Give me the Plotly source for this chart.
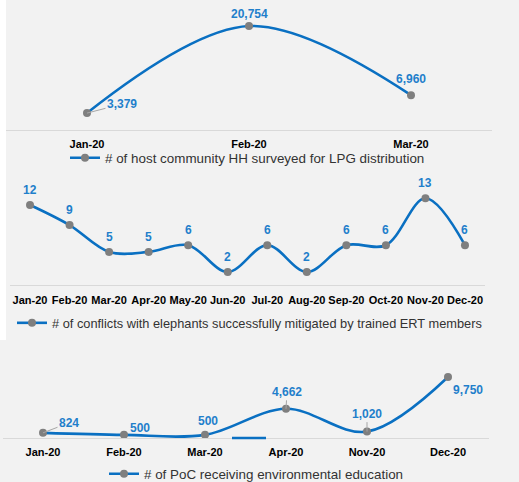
import plotly.graph_objects as go

# ---- data ----
lpg_months = ["Jan-20", "Feb-20", "Mar-20"]
lpg_values = [3379, 20754, 6960]
lpg_name = "# of host community HH surveyed for LPG distribution"

ert_months = ["Jan-20", "Feb-20", "Mar-20", "Apr-20", "May-20", "Jun-20",
              "Jul-20", "Aug-20", "Sep-20", "Oct-20", "Nov-20", "Dec-20"]
ert_values = [12, 9, 5, 5, 6, 2, 6, 2, 6, 6, 13, 6]
ert_name = "# of conflicts with elephants successfully mitigated by trained ERT members"

poc_months = ["Jan-20", "Feb-20", "Mar-20", "Apr-20", "Nov-20", "Dec-20"]
poc_values = [824, 500, 500, 4662, 1020, 9750]
poc_name = "# of PoC receiving environmental education"

# ---- style ----
W, H = 519, 482
LINE = "#0a70c2"
LABEL = "#1f7fcb"
MARK = "#7f7f7f"
BG = "#f2f2f2"
FONT = "Liberation Sans"

def py(p):  # pixel from top -> paper fraction
    return 1 - p / H

fig = go.Figure()

panels = [
    (lpg_months, lpg_values, lpg_name, "x", "y", "legend"),
    (ert_months, ert_values, ert_name, "x2", "y2", "legend2"),
    (poc_months, poc_values, poc_name, "x3", "y3", "legend3"),
]
for months, vals, name, xa, ya, lg in panels:
    fig.add_trace(go.Scatter(
        x=months, y=vals, name=name, mode="lines+markers",
        line=dict(color=LINE, width=2.6, shape="spline", smoothing=1),
        marker=dict(color=MARK, size=8),
        xaxis=xa, yaxis=ya, legend=lg, showlegend=True, cliponaxis=False,
    ))

# label offsets (pixels) per point: (ax, ay, leader)
lpg_off = [(35, -9, True), (0, -12, False), (0, -16, False)]
ert_off = [(0, -15, False)] * len(ert_values)
poc_off = [(26, -10, True), (16, -7, False), (3, -14, False),
           (1, -17, True), (0, -18, True), (20, 13, False)]

annotations = []
for (months, vals, name, xa, ya, lg), offs in zip(panels, [lpg_off, ert_off, poc_off]):
    for m, v, (ax, ay, lead) in zip(months, vals, offs):
        annotations.append(dict(
            x=m, y=v, xref=xa, yref=ya, text=f"{v:,}",
            showarrow=True, ax=ax, ay=ay, arrowhead=0, arrowwidth=1,
            arrowcolor="#a6a6a6" if lead else "rgba(0,0,0,0)", standoff=0,
            font=dict(family=FONT, size=12, color=LABEL, weight="bold"),
        ))

xcommon = dict(showline=True, linecolor="#d9d9d9", linewidth=1, showgrid=False,
               zeroline=False, ticks="", fixedrange=True, tickangle=0, automargin=False,
               tickfont=dict(family=FONT, size=11, color="#000000", weight="bold"))
ycommon = dict(visible=False, showgrid=False, zeroline=False, fixedrange=True)
legfont = dict(family=FONT, size=13.4, color="#333333")
legfont2 = dict(family=FONT, size=12.8, color="#333333")

fig.update_layout(
    width=W, height=H, margin=dict(l=0, r=0, t=0, b=0, autoexpand=False),
    paper_bgcolor=BG, plot_bgcolor=BG,
    font=dict(family=FONT),
    xaxis=dict(**xcommon, domain=[6 / W, 492 / W], anchor="y", ticklabelstandoff=4,
               range=[-0.5, len(lpg_months) - 0.5]),
    yaxis=dict(**ycommon, domain=[py(130), py(9.8)], range=[0, 24000], anchor="x"),
    xaxis2=dict(**xcommon, domain=[10.25 / W, 484.75 / W], anchor="y2", ticklabelstandoff=4,
                range=[-0.5, len(ert_months) - 0.5]),
    yaxis2=dict(**ycommon, domain=[py(285.4), py(178.2)], range=[0, 16], anchor="x2"),
    xaxis3=dict(**xcommon, domain=[2.5 / W, 488.5 / W], anchor="y3", ticklabelstandoff=4,
                range=[-0.5, len(poc_months) - 0.5]),
    yaxis3=dict(**ycommon, domain=[py(438), py(362.9)], range=[0, 12000], anchor="x3"),
    legend=dict(x=65 / W, y=py(158), xanchor="left", yanchor="middle",
                bgcolor="rgba(0,0,0,0)", font=legfont),
    legend2=dict(x=12 / W, y=py(323), xanchor="left", yanchor="middle",
                 bgcolor="rgba(0,0,0,0)", font=legfont2),
    legend3=dict(x=104 / W, y=py(474), xanchor="left", yanchor="middle",
                 bgcolor="rgba(0,0,0,0)", font=legfont),
    annotations=annotations,
    shapes=[
        dict(type="rect", xref="paper", yref="paper", x0=0, x1=6 / W, y0=py(340), y1=1,
             fillcolor="white", line=dict(width=0), layer="below"),
        dict(type="line", xref="paper", yref="paper", x0=232 / W, x1=266 / W,
             y0=py(438), y1=py(438), line=dict(color=LINE, width=2.5)),
    ],
)

fig.write_html("out.html", config={"displayModeBar": False},
               post_script="document.body.style.margin='0';document.body.style.padding='0';")
